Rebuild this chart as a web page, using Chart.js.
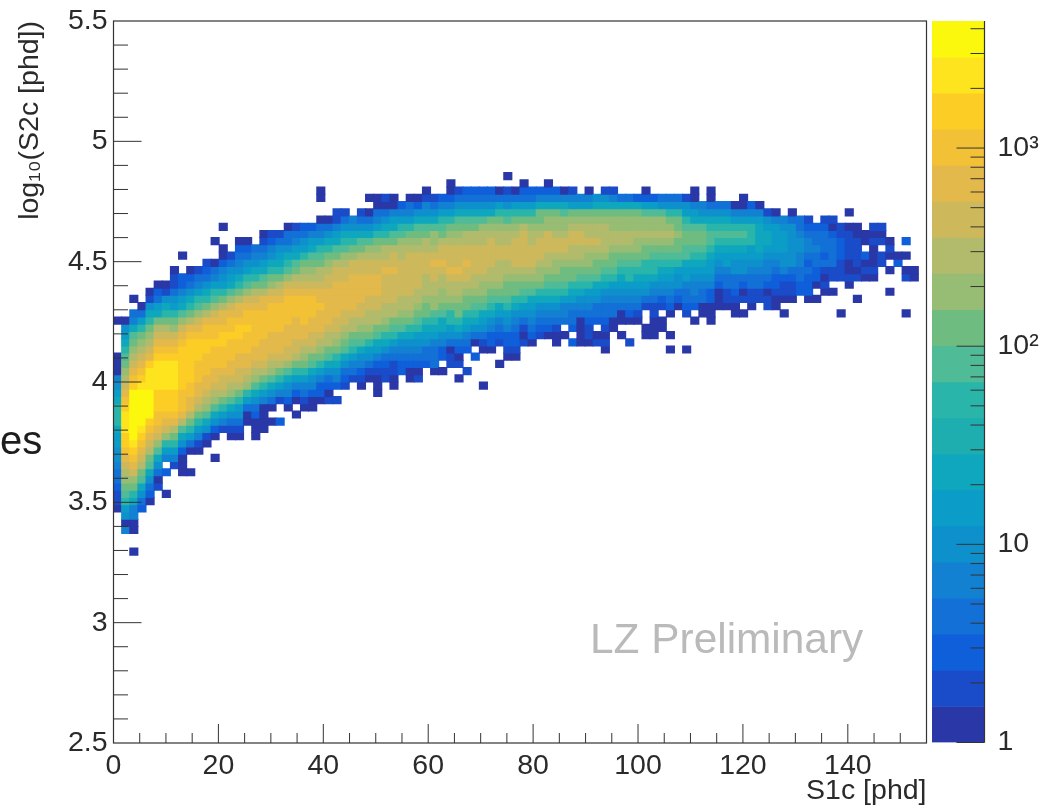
<!DOCTYPE html>
<html>
<head>
<meta charset="utf-8">
<title>S2c vs S1c</title>
<script src="https://cdn.jsdelivr.net/npm/chart.js@4/dist/chart.umd.min.js"></script>
<style>
  html,body{margin:0;padding:0;background:#fff;}
  #wrap{position:relative;width:1040px;height:808px;overflow:hidden;font-family:"Liberation Sans",sans-serif;}
  canvas{position:absolute;left:0;top:0;}
  .note{position:absolute;white-space:nowrap;line-height:1;}
</style>
</head>
<body>
<div id="wrap">
  <canvas id="hist" width="1040" height="808"></canvas>
  <canvas id="palette" width="1040" height="808"></canvas>
  <div class="note" style="left:0;top:420px;font-size:40px;color:#1d1d1d;">es</div>
  <div class="note" style="left:590px;top:618px;font-size:42.4px;color:#bababa;">LZ Preliminary</div>
</div>
<script>
// histogram bins
const xMax = 155, xBin = 1.55;
const yMin = 2.5, yMax = 5.5, yBin = 0.03;

// first filled row of each S1c column
const colStart = [32,29,26,32,33,35,34,38,37,37,40,41,39,43,42,42,44,42,43,44,
  44,46,45,46,46,47,47,47,49,50,49,50,48,50,49,51,50,50,52,51,
  51,52,50,51,53,49,54,52,53,53,55,55,56,56,55,56,55,55,55,55,
  54,57,56,55,58,56,56,57,54,60,54,58,59,58,60,60,59,59,60,61,
  60,60,59,61,62,61,61,62,62,59,63,61,64,64,66,62,66,59,64];

const colLevels = [
  "0112334556678887654000....0",
  "405689abcdefgghhhgfedcba987650",
  "0..004478abdefghijjjjjjgfedcba9743.0",
  "23579acdefghijjjjhgfedcba8630",
  "023579acdefgijjihhhgedcba87510",
  "103579bdeffggghhhhgfedca76320",
  "0..2.468bdefggghhhhgfedca87510",
  "1468acefggghhhhgfedba8653110",
  "0002579cefffggggggfedb976422..0",
  "0..0368aceeffggggggfeca875320",
  "01468acdeefffgggfedb986431",
  "01579bcdeefffggffeca875321",
  "0..02579bcdeefffgffedb986430..0",
  "1468acddefffggfeeca8654200..0",
  "013579bcdeefffgffedb976531",
  "013568acddeeffggfeeca8754320",
  "00368bcdeefffgffedb9865320",
  "00023579bcdeefffffedca87543",
  "0000468acdeeeffffeeca9764310",
  "0.03579bcdeeeffffedba875421",
  "2..1468acdeeeffffedca876531",
  "024579bddeeeffffedb9875330",
  "0.02468acddeeefffedca976431",
  "013468abcdeeffffedcba86532",
  "0024579acddeefffedcba97642",
  "022468abcdeeefeedcca986430..00",
  "1023579accdeeeeeddcba87530",
  "1.24578abcddeeeeeddca976411",
  "123579abcddeeeeddcb987531",
  "134689accdeeeeeddba8754",
  "0124579abcddeeeeddca97531",
  "013568abccddeeeddcb97530.0",
  "000124679accddeeeddcba864300",
  "1123578abccddddedcca875301",
  "001134689accddddeddca976400",
  "2234579abccdddddccb98642",
  "00234578abccddddddcba86430",
  "102345689abccdddddcba97520",
  "2335678aabcccdddcca975410",
  "033346789bbccddedcbb97531",
  "0.2245779abbccdeddca98642",
  "11035688abccdedddcba864200",
  "0.1023578aabccdedddcba97531",
  "1..234678aabcddeddcca97532",
  "2.035789abccddddcca97532",
  "0....0135679abbcddddccb97532",
  "02245789abccddddcba7532",
  "0..1234679abcccddccba8630",
  "012245689aabccddccb98531.0",
  "012234578aabcddddcba8630",
  "10135689abcdddddca86320",
  "02345679abcdddccba8632",
  "1234578abbcdddcbaa742",
  "02345789abccdddbba7420",
  "001345789abbcddcbba742",
  "0.344689aabcddcbb9740",
  "2.2334678aabccddcba641",
  "0000345789abccddcba64",
  "0112345689abbcdccba640",
  "10.2335679aabcdccba75",
  "010123345789abccccba751",
  "003345689aabccbba741",
  "0.003456789abccbba73",
  "1..023456889abccbba73",
  "013456789abbcbba72",
  "00..1356788aabcbb9620",
  "000113457889abcbb962",
  "00.12456789abcbb953",
  "0.0..023456789abcba853",
  "02355689aabaa853",
  "0....1233466799aa98651",
  "0.234456789aa976400",
  "0033456789aa9754",
  "0002245667899875300",
  "000234567898753",
  "011334667898753",
  "0012335567898640",
  "0.102355678986400",
  "011334566888642",
  "11334567777640",
  "11023445677651",
  "00122345666640",
  "0.011245566654",
  "0112355555530",
  "22334455433",
  "022232344321",
  "0.022334332",
  "01013233321",
  "0.113333201",
  "0....11122211",
  "010011110.0",
  "0..10111100",
  "0102.00",
  "01000101",
  "11.101",
  "0..0.010",
  "20",
  "0....10.0.2",
  "00"
];

// palette band that each read level falls in
const levelBand = [0,1,2,3,4,5,6,7,9,10,11,12,13,14,15,16,17,18,19,19];

// palette, band 0 (1 count) up to band 19
const bandColors = ["#2a37a7","#1a4bc8","#0f5fdb","#1270d7","#1381d1","#0e90cc","#0b9cc7","#0fa7bd",
  "#1eaeb0","#2ab5aa","#4fbb97","#6fbc81","#96bd73","#b2bb6b","#ceb85c","#e2b94a",
  "#f3c135","#fccd25","#fde41e","#fbf80e"];
const bandEdges = [1,1.52,2.31,3.52,5.35,8.13,12.4,18.8,28.6,43.5,66.1,100.6,153,233,354,538,818,1244,1892,2877,4376];

const xTicks = [0,20,40,60,80,100,120,140];
const yTicks = [2.5,3,3.5,4,4.5,5,5.5];
const xMinorStep = 5, yMinorStep = 0.1;
const paletteMinorTicks = [2,3,4,5,6,7,8,9,20,30,40,50,60,70,80,90,200,300,400,500,600,700,800,900,2000,3000,4000];
const paletteTicks = [1,10,100,1000];
const paletteLabels = {1:'1',10:'10',100:'10²',1000:'10³'};

const FONT = '"Liberation Sans", sans-serif';
const INK = '#2a2a2a';

const cells = [], cellColors = [];
colLevels.forEach((s,c)=>{
  for(let i=0;i<s.length;i++){
    if(s[i]==='.') continue;
    const r = colStart[c]+i;
    cells.push({x:(c+0.5)*xBin, y:[yMin+r*yBin, yMin+(r+1)*yBin]});
    cellColors.push(bandColors[levelBand[parseInt(s[i],36)]]);
  }
});

function tick(ctx,x1,y1,x2,y2){ ctx.beginPath(); ctx.moveTo(x1,y1); ctx.lineTo(x2,y2); ctx.stroke(); }

// ROOT style frame with ticks pointing inwards
const rootFrame = {
  id:'rootFrame',
  afterDatasetsDraw(chart){
    const {ctx,chartArea:a,scales:{x,y}} = chart;
    ctx.save();
    ctx.strokeStyle = '#333'; ctx.lineWidth = 1.2;
    ctx.strokeRect(a.left,a.top,a.right-a.left,a.bottom-a.top);
    ctx.lineWidth = 1;
    for(let v=xMinorStep;v<xMax;v+=xMinorStep){
      const px = x.getPixelForValue(v);
      tick(ctx,px,a.bottom,px,a.bottom-(v%20===0?19:10));
    }
    for(let i=1;i<30;i++){
      const v = yMin+i*yMinorStep;
      const py = y.getPixelForValue(v);
      tick(ctx,a.left,py,a.left+(i%5===0?28:14.5),py);
    }
    ctx.restore();
  }
};

const paletteFrame = {
  id:'paletteFrame',
  afterDatasetsDraw(chart){
    const {ctx,chartArea:a,scales:{y}} = chart;
    ctx.save();
    ctx.strokeStyle = '#333'; ctx.lineWidth = 1.2;
    tick(ctx,a.right,a.top,a.right,a.bottom);
    ctx.lineWidth = 1;
    paletteTicks.forEach(v=>{ const py=y.getPixelForValue(v); tick(ctx,a.right,py,a.right-28,py); });
    paletteMinorTicks.forEach(v=>{ const py=y.getPixelForValue(v); tick(ctx,a.right,py,a.right-14,py); });
    ctx.restore();
  }
};

new Chart(document.getElementById('hist'),{
  type:'bar',
  data:{datasets:[{
    data:cells,
    backgroundColor:cellColors,
    barPercentage:1,
    categoryPercentage:1,
    borderWidth:0,
    inflateAmount:0.5
  }]},
  options:{
    responsive:false,
    animation:false,
    devicePixelRatio:1,
    layout:{padding:{top:21,right:113.5,left:0,bottom:0}},
    plugins:{legend:{display:false},tooltip:{enabled:false}},
    scales:{
      x:{
        type:'linear',min:0,max:xMax,offset:false,
        afterFit(s){ s.height = 65; },
        afterBuildTicks(s){ s.ticks = xTicks.map(v=>({value:v})); },
        grid:{display:false,drawTicks:true,tickLength:6},
        border:{display:false},
        ticks:{autoSkip:false,maxRotation:0,padding:0,color:INK,font:{family:FONT,size:28.5}},
        title:{display:true,text:'S1c [phd]',align:'end',color:INK,font:{family:FONT,size:28.5},padding:{top:0,bottom:0}}
      },
      y:{
        type:'linear',min:yMin,max:yMax,
        afterFit(s){ s.width = 113.5; },
        afterBuildTicks(s){ s.ticks = yTicks.map(v=>({value:v})); },
        grid:{display:false,drawTicks:true,tickLength:6},
        border:{display:false},
        ticks:{autoSkip:false,padding:0,color:INK,font:{family:FONT,size:28.5},callback:v=>String(v)},
        title:{display:true,text:'log₁₀(S2c [phd])',align:'end',color:INK,font:{family:FONT,size:28.5},padding:{top:13,bottom:0}}
      }
    }
  },
  plugins:[rootFrame]
});

new Chart(document.getElementById('palette'),{
  type:'bar',
  data:{
    labels:['z'],
    datasets:[{
      data:bandColors.map((c,i)=>({x:'z',y:[bandEdges[i],bandEdges[i+1]]})),
      backgroundColor:bandColors,
      barPercentage:1,
      categoryPercentage:1,
      borderWidth:0
    }]
  },
  options:{
    responsive:false,
    animation:false,
    devicePixelRatio:1,
    layout:{padding:{left:932,top:21,bottom:65.5,right:0}},
    plugins:{legend:{display:false},tooltip:{enabled:false}},
    scales:{
      x:{display:false},
      y:{
        type:'logarithmic',position:'right',bounds:'data',
        min:bandEdges[0],max:bandEdges[bandEdges.length-1],
        afterFit(s){ s.width = 55.5; },
        afterBuildTicks(s){ s.ticks = paletteTicks.map(v=>({value:v})); },
        grid:{display:false,drawTicks:true,tickLength:13},
        border:{display:false},
        ticks:{autoSkip:false,padding:0,color:INK,font:{family:FONT,size:28.5},callback:v=>paletteLabels[v]||''}
      }
    }
  },
  plugins:[paletteFrame]
});
</script>
</body>
</html>
